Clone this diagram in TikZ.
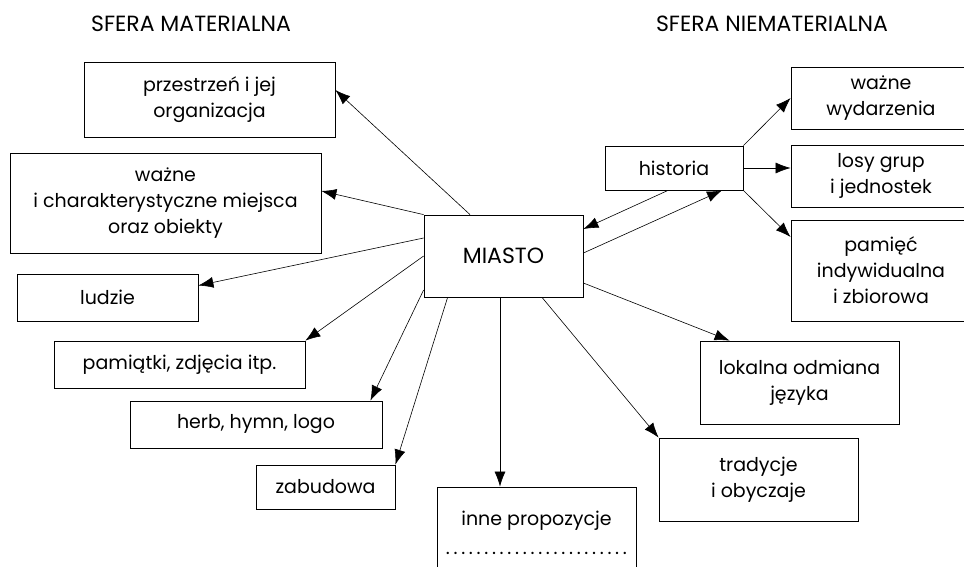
\documentclass[tikz,border=0pt]{standalone}
\usepackage{fontspec}
\setmainfont{Poppins}
\usetikzlibrary{arrows.meta}

\begin{document}
\begin{tikzpicture}[x=1pt, y=-1pt, font=\fontsize{19}{26}\selectfont]
      \tikzset{box/.style={draw, rectangle, line width=0.8pt, inner sep=0pt, align=center}}
      \tikzset{big/.style={font=\fontsize{22}{26}\selectfont}}
      \useasboundingbox (0,0) rectangle (964,566);
      \clip (0,0) rectangle (964,566);
%% Headings
      \node[big] (hmat) at (191,24) {SFERA MATERIALNA};
      \node[big] (hniemat) at (772,24) {SFERA NIEMATERIALNA};
%% Centre
      \node[box, big, minimum width=159pt, minimum height=82pt] (miasto) at (503.5,256) {MIASTO};
%% Material side
      \node[box, minimum width=251pt, minimum height=75pt] (przestrzen) at (209.5,99.5) {przestrzeń i jej\\organizacja};
      \node[box, minimum width=311pt, minimum height=100pt] (miejsca) at (165.5,203) {ważne\\i charakterystyczne miejsca\\oraz obiekty};
      \node[box, minimum width=181pt, minimum height=47pt] (ludzie) at (107.5,297.5) {ludzie};
      \node[box, minimum width=251pt, minimum height=47pt] (pamiatki) at (179.5,364.5) {pamiątki, zdjęcia itp.};
      \node[box, minimum width=252pt, minimum height=47pt] (herb) at (256,424.5) {herb, hymn, logo};
      \node[box, minimum width=139pt, minimum height=44pt] (zabudowa) at (325.5,487) {zabudowa};
      \node[box, minimum width=199pt, minimum height=92pt] (inne) at (536.5,533) {inne propozycje\\[3pt]\makebox[185pt]{\leaders\hbox to 7.7pt{\hss.\hss}\hfill}};
%% Non-material side
      \node[box, minimum width=138pt, minimum height=44pt] (historia) at (674,168) {historia};
      \node[box, minimum width=180pt, minimum height=62pt] (wydarzenia) at (881,98) {ważne\\wydarzenia};
      \node[box, minimum width=180pt, minimum height=62pt] (losy) at (881,176) {losy grup\\i jednostek};
      \node[box, minimum width=180pt, minimum height=101pt] (pamiec) at (881,270.5) {pamięć\\indywidualna\\i zbiorowa};
      \node[box, minimum width=199pt, minimum height=83pt] (jezyk) at (799.5,382.5) {lokalna odmiana\\języka};
      \node[box, minimum width=199pt, minimum height=83pt] (tradycje) at (758.5,479.5) {tradycje\\i obyczaje};
%Arrows
      \tikzset{arr/.style={->, > = {Latex[length=15pt, width=11pt]}, line width=0.6pt}}
      \path[arr] ([xshift=-33.5pt]miasto.north) edge ([yshift=9.5pt]przestrzen.east);
      \path[arr] (miasto.north west) edge ([yshift=12pt]miejsca.east);
      \path[arr] ([yshift=18pt]miasto.west) edge ([yshift=12pt]ludzie.east);
      \path[arr] (miasto.west) edge (pamiatki.north east);
      \path[arr] ([yshift=-34pt]miasto.west) edge ([xshift=-12pt]herb.north east);
      \path[arr] ([xshift=24pt]miasto.south west) edge (zabudowa.north east);
      \path[arr] ([xshift=-3.5pt]miasto.south) edge ([xshift=-3.5pt]miasto.south |- inne.north);
      \path[arr] ([xshift=38.5pt]miasto.south) edge (tradycje.north west);
      \path[arr] ([yshift=-27pt]miasto.east) edge ([xshift=30pt]jezyk.north west);
      \path[arr] ([xshift=-6pt]historia.south) edge ([yshift=27pt]miasto.east);
      \path[arr] ([yshift=3pt]miasto.east) edge ([xshift=48pt]historia.south);
      \path[arr] (historia.north east) edge (wydarzenia.west);
      \path[arr] (historia.east) edge (historia.east -| losy.west);
      \path[arr] (historia.south east) edge ([yshift=33.5pt]pamiec.west);
\end{tikzpicture}
\end{document}
